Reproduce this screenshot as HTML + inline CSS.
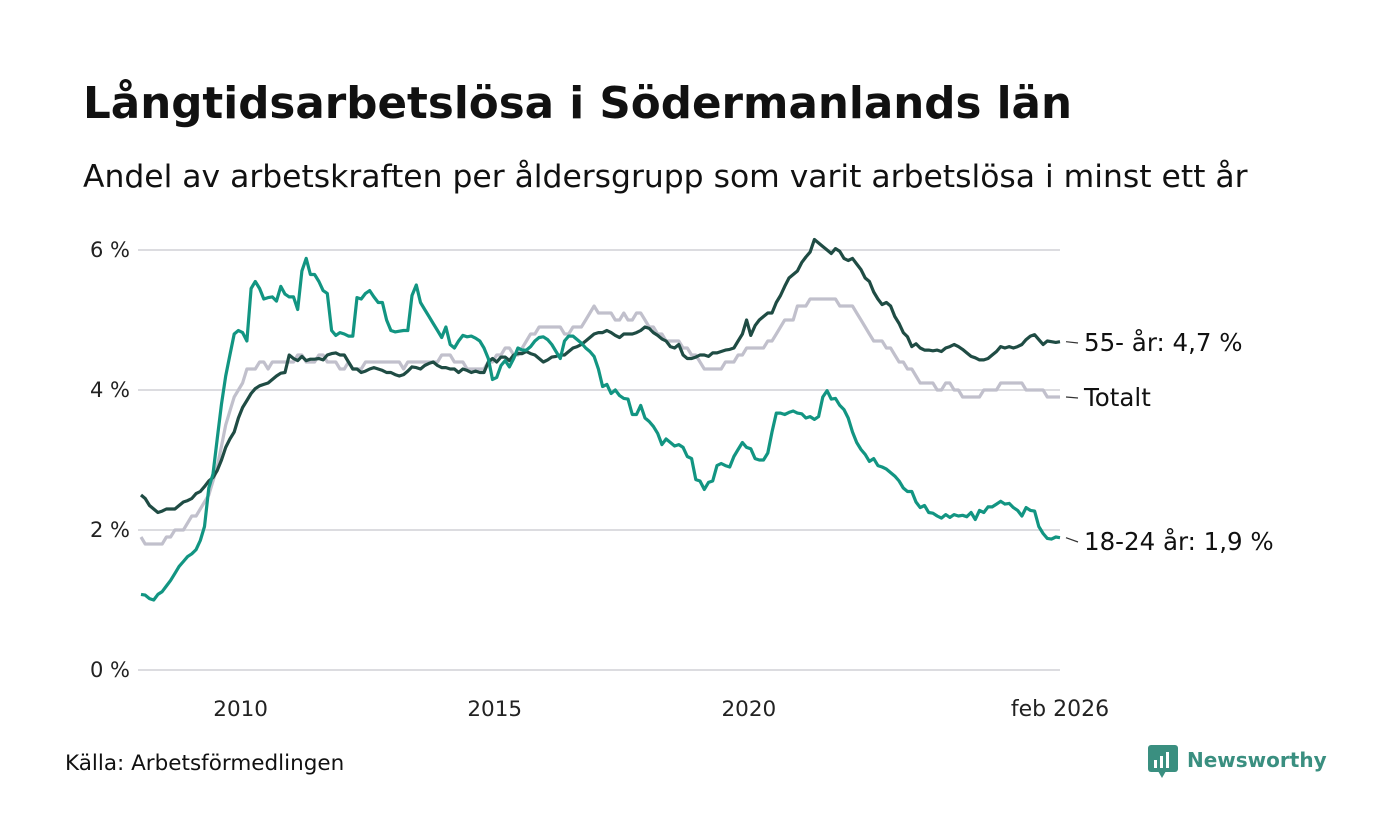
<!DOCTYPE html>
<html><head><meta charset="utf-8"><style>
body{margin:0;background:#fff;font-family:"Liberation Sans","DejaVu Sans",sans-serif;}
#wrap{position:relative;width:1400px;height:840px;overflow:hidden;}
svg text{font-family:"DejaVu Sans","Liberation Sans",sans-serif;}
</style></head><body>
<div id="wrap">
<svg id="chart" width="1400" height="840">
<text x="83" y="118" font-size="43.6" font-weight="bold" fill="#111">Långtidsarbetslösa i Södermanlands län</text>
<text x="83" y="187" font-size="31.4" fill="#111">Andel av arbetskraften per åldersgrupp som varit arbetslösa i minst ett år</text>
<g id="grid"></g><g id="lines"></g><g id="labels"></g>
<text x="65" y="770" font-size="21.5" fill="#111">Källa: Arbetsförmedlingen</text>
<g>
<rect x="1148" y="745" width="30" height="27" rx="3" fill="#3a8f80"/>
<polygon points="1158,771 1166,771 1162,778" fill="#3a8f80"/>
<rect x="1154" y="760" width="3" height="8" fill="#fff"/><rect x="1160" y="756" width="3" height="12" fill="#fff"/><rect x="1166" y="752" width="3" height="16" fill="#fff"/>
<text x="1187" y="767" font-size="20" font-weight="bold" fill="#3a8f80">Newsworthy</text>
</g>
</svg>
</div>
<script>
const startYear = 2008;
const yTicks = [0, 2, 4, 6];
const xTickYears = [2010, 2015, 2020];
const age1824 = [1.08,1.07,1.02,1.0,1.08,1.12,1.2,1.28,1.38,1.48,1.55,1.62,
1.66,1.72,1.85,2.05,2.6,2.8,3.3,3.8,4.2,4.5,4.8,4.85,
4.82,4.7,5.45,5.55,5.45,5.3,5.32,5.33,5.27,5.48,5.37,5.33,
5.33,5.15,5.7,5.88,5.65,5.65,5.55,5.42,5.38,4.85,4.78,4.82,
4.8,4.77,4.77,5.32,5.3,5.38,5.42,5.33,5.25,5.25,5.0,4.85,
4.83,4.84,4.85,4.85,5.35,5.5,5.25,5.15,5.05,4.95,4.85,4.75,
4.9,4.65,4.6,4.7,4.78,4.76,4.77,4.74,4.7,4.6,4.45,4.15,
4.18,4.35,4.42,4.33,4.45,4.6,4.57,4.57,4.62,4.7,4.75,4.76,
4.72,4.65,4.55,4.45,4.7,4.77,4.77,4.72,4.67,4.6,4.55,4.48,
4.3,4.05,4.08,3.95,4.0,3.92,3.88,3.87,3.65,3.65,3.78,3.6,
3.55,3.48,3.38,3.22,3.3,3.25,3.2,3.22,3.18,3.05,3.02,2.72,
2.7,2.58,2.68,2.7,2.92,2.95,2.92,2.9,3.05,3.15,3.25,3.18,
3.16,3.02,3.0,3.0,3.1,3.4,3.67,3.67,3.65,3.68,3.7,3.67,
3.66,3.6,3.62,3.58,3.62,3.9,3.99,3.87,3.88,3.78,3.72,3.6,
3.4,3.25,3.15,3.08,2.98,3.02,2.92,2.9,2.87,2.82,2.77,2.7,
2.6,2.55,2.55,2.4,2.32,2.35,2.25,2.24,2.2,2.17,2.22,2.18,
2.22,2.2,2.21,2.19,2.25,2.15,2.28,2.25,2.33,2.33,2.37,2.41,
2.37,2.38,2.32,2.28,2.2,2.32,2.28,2.27,2.05,1.95,1.88,1.87,
1.9,1.89];
const age55 = [2.5,2.45,2.35,2.3,2.25,2.27,2.3,2.3,2.3,2.35,2.4,2.42,
2.45,2.52,2.55,2.62,2.7,2.75,2.85,3.0,3.18,3.3,3.4,3.6,
3.75,3.85,3.95,4.02,4.06,4.08,4.1,4.15,4.2,4.24,4.25,4.5,
4.45,4.42,4.48,4.42,4.44,4.44,4.45,4.43,4.5,4.52,4.53,4.5,
4.5,4.4,4.3,4.3,4.25,4.27,4.3,4.32,4.3,4.28,4.25,4.25,
4.22,4.2,4.22,4.27,4.33,4.32,4.3,4.35,4.38,4.4,4.35,4.32,
4.32,4.3,4.3,4.25,4.3,4.28,4.25,4.27,4.25,4.25,4.4,4.45,
4.4,4.47,4.47,4.42,4.5,4.52,4.52,4.55,4.52,4.5,4.45,4.4,
4.43,4.47,4.48,4.5,4.5,4.55,4.6,4.62,4.65,4.7,4.75,4.8,
4.82,4.82,4.85,4.82,4.78,4.75,4.8,4.8,4.8,4.82,4.85,4.9,
4.88,4.82,4.78,4.73,4.7,4.62,4.6,4.65,4.5,4.45,4.45,4.47,
4.5,4.5,4.48,4.53,4.53,4.55,4.57,4.58,4.6,4.7,4.8,5.0,
4.78,4.92,5.0,5.05,5.1,5.1,5.25,5.35,5.48,5.6,5.65,5.7,
5.82,5.9,5.97,6.15,6.1,6.05,6.0,5.95,6.02,5.98,5.88,5.85,
5.88,5.8,5.72,5.6,5.55,5.4,5.3,5.22,5.25,5.2,5.05,4.95,
4.82,4.76,4.62,4.66,4.6,4.57,4.57,4.56,4.57,4.55,4.6,4.62,
4.65,4.62,4.58,4.53,4.48,4.46,4.43,4.43,4.45,4.5,4.55,4.62,
4.6,4.62,4.6,4.62,4.65,4.72,4.77,4.79,4.72,4.65,4.7,4.69,
4.68,4.69];
const total = [1.9,1.8,1.8,1.8,1.8,1.8,1.9,1.9,2.0,2.0,2.0,2.1,
2.2,2.2,2.3,2.4,2.5,2.7,2.9,3.2,3.5,3.7,3.9,4.0,
4.1,4.3,4.3,4.3,4.4,4.4,4.3,4.4,4.4,4.4,4.4,4.4,
4.4,4.5,4.5,4.4,4.4,4.4,4.5,4.5,4.4,4.4,4.4,4.3,
4.3,4.4,4.3,4.3,4.3,4.4,4.4,4.4,4.4,4.4,4.4,4.4,
4.4,4.4,4.3,4.4,4.4,4.4,4.4,4.4,4.4,4.4,4.4,4.5,
4.5,4.5,4.4,4.4,4.4,4.3,4.3,4.3,4.3,4.3,4.4,4.4,
4.5,4.5,4.6,4.6,4.5,4.5,4.6,4.7,4.8,4.8,4.9,4.9,
4.9,4.9,4.9,4.9,4.8,4.8,4.9,4.9,4.9,5.0,5.1,5.2,
5.1,5.1,5.1,5.1,5.0,5.0,5.1,5.0,5.0,5.1,5.1,5.0,
4.9,4.9,4.8,4.8,4.7,4.7,4.7,4.7,4.6,4.6,4.5,4.5,
4.4,4.3,4.3,4.3,4.3,4.3,4.4,4.4,4.4,4.5,4.5,4.6,
4.6,4.6,4.6,4.6,4.7,4.7,4.8,4.9,5.0,5.0,5.0,5.2,
5.2,5.2,5.3,5.3,5.3,5.3,5.3,5.3,5.3,5.2,5.2,5.2,
5.2,5.1,5.0,4.9,4.8,4.7,4.7,4.7,4.6,4.6,4.5,4.4,
4.4,4.3,4.3,4.2,4.1,4.1,4.1,4.1,4.0,4.0,4.1,4.1,
4.0,4.0,3.9,3.9,3.9,3.9,3.9,4.0,4.0,4.0,4.0,4.1,
4.1,4.1,4.1,4.1,4.1,4.0,4.0,4.0,4.0,4.0,3.9,3.9,
3.9,3.9];
const seriesNames = ["55- år: 4,7 %", "Totalt", "18-24 år: 1,9 %"];

const NS = "http://www.w3.org/2000/svg";
const nMonths = age1824.length;
const x0 = 141, x1 = 1060;
function xScale(i){ return x0 + i * (x1 - x0) / (nMonths - 1); }
function yScale(v){ return 670 - v * 70; }
function xYear(y){ return xScale((y - startYear) * 12); }

const grid = document.getElementById('grid');
yTicks.forEach(t => {
  const l = document.createElementNS(NS, 'line');
  l.setAttribute('x1', 138); l.setAttribute('x2', 1060);
  l.setAttribute('y1', yScale(t)); l.setAttribute('y2', yScale(t));
  l.setAttribute('stroke', '#dcdce0'); l.setAttribute('stroke-width', 2);
  
  
  grid.appendChild(l);
  const tx = document.createElementNS(NS, 'text');
  tx.setAttribute('x', 130); tx.setAttribute('y', yScale(t) + 7);
  tx.setAttribute('text-anchor', 'end'); tx.setAttribute('font-size', '21'); tx.setAttribute('fill', '#222');
  tx.textContent = t + ' %';
  
  
  grid.appendChild(tx);
});
xTickYears.forEach(y => {
  const tx = document.createElementNS(NS, 'text');
  tx.setAttribute('x', xYear(y) - 2); tx.setAttribute('y', 716);
  tx.setAttribute('text-anchor', 'middle'); tx.setAttribute('font-size', '21.5'); tx.setAttribute('fill', '#222');
  tx.textContent = y;
  
  
  grid.appendChild(tx);
});
const lastTx = document.createElementNS(NS, 'text');
lastTx.setAttribute('x', xScale(nMonths - 1)); lastTx.setAttribute('y', 716);
lastTx.setAttribute('text-anchor', 'middle'); lastTx.setAttribute('font-size', '22'); lastTx.setAttribute('fill', '#222');
lastTx.textContent = 'feb 2026';


grid.appendChild(lastTx);

const lines = document.getElementById('lines');
const labels = document.getElementById('labels');
function drawSeries(vals, color, name, labelText, labelY){
  const p = document.createElementNS(NS, 'polyline');
  p.setAttribute('points', vals.map((v, i) => xScale(i).toFixed(1) + ',' + yScale(v).toFixed(1)).join(' '));
  p.setAttribute('fill', 'none'); p.setAttribute('stroke', color); p.setAttribute('stroke-width', 3.2);
  p.setAttribute('stroke-linejoin', 'round');
  
  
  lines.appendChild(p);
  const yEnd = yScale(vals[vals.length - 1]);
  const c = document.createElementNS(NS, 'line');
  c.setAttribute('x1', 1066); c.setAttribute('x2', 1078); c.setAttribute('y1', yEnd); c.setAttribute('y2', labelY - 8);
  c.setAttribute('stroke', '#333'); c.setAttribute('stroke-width', 1.2);
  
  
  labels.appendChild(c);
  const t = document.createElementNS(NS, 'text');
  t.setAttribute('x', 1084); t.setAttribute('y', labelY);
  t.setAttribute('font-size', '24.5'); t.setAttribute('fill', '#111');
  t.textContent = labelText;
  
  
  labels.appendChild(t);
}
drawSeries(total, '#c1c0cc', 'series-totalt', seriesNames[1], 406);
drawSeries(age55, '#1f4c44', 'series-55-ar', seriesNames[0], 351);
drawSeries(age1824, '#129582', 'series-18-24-ar', seriesNames[2], 550);
</script>
</body></html>
